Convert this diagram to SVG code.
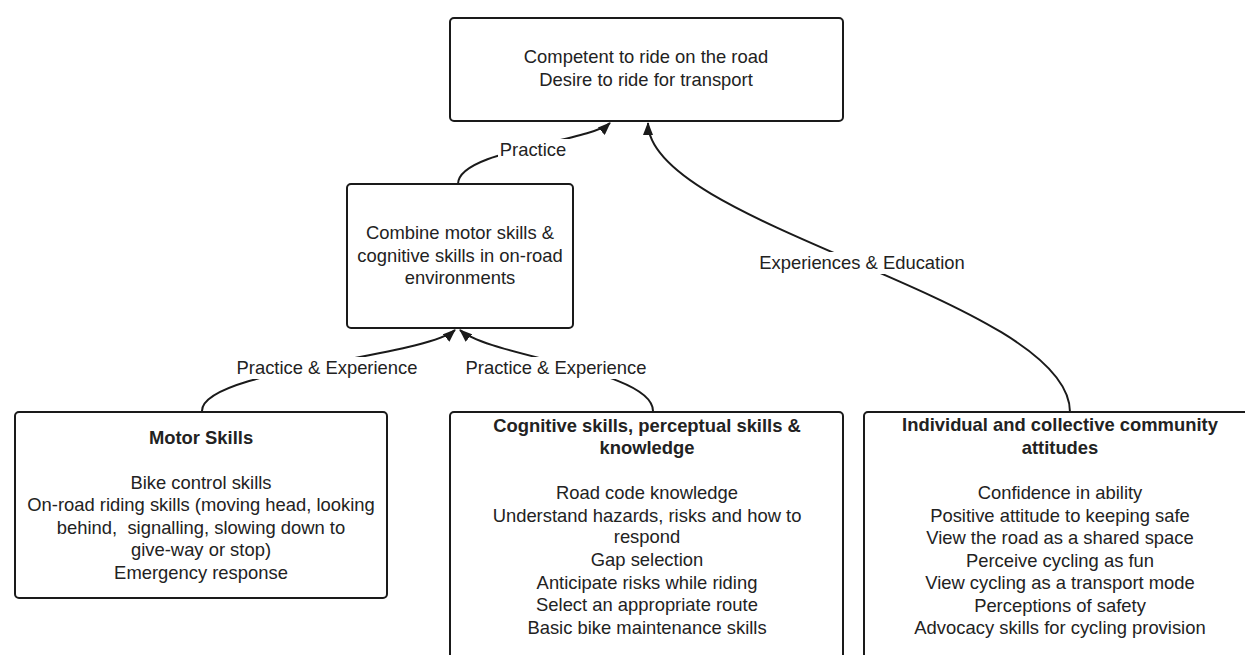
<svg xmlns="http://www.w3.org/2000/svg" width="1245" height="655" viewBox="0 0 1245 655">
<defs>
<style>
.box{fill:#fff;stroke:#1a1a1a;stroke-width:2}
.t{font-family:"Liberation Sans",Arial,sans-serif;font-size:18.4px;fill:#222;text-anchor:middle;white-space:pre}
.b{font-weight:bold}
.c{fill:none;stroke:#1a1a1a;stroke-width:2}
.lb{fill:#fff}
</style>
<marker id="ah" viewBox="0 0 13 10" refX="12" refY="5" markerWidth="13" markerHeight="10" markerUnits="userSpaceOnUse" orient="auto">
<path d="M0,0 L13,5 L0,10 Z" fill="#1a1a1a"/>
</marker>
</defs>
<rect width="1245" height="655" fill="#fff"/>
<g id="connectors">
<path class="c" d="M458,184 C458,150 590,142 610,123" marker-end="url(#ah)"/>
<path class="c" d="M202,411 C202,370 425,357 455,330" marker-end="url(#ah)"/>
<path class="c" d="M653,411 C653,370 490,357 460,330" marker-end="url(#ah)"/>
<path class="c" d="M1070,412 C1070,300 648,225 648,123" marker-end="url(#ah)"/>
<rect class="lb" x="498" y="139" width="72" height="22"/>
<text class="t" x="533" y="156">Practice</text>
<rect class="lb" x="233" y="357" width="189" height="22"/>
<text class="t" x="327" y="374">Practice &amp; Experience</text>
<rect class="lb" x="462" y="357" width="189" height="22"/>
<text class="t" x="556" y="374">Practice &amp; Experience</text>
<rect class="lb" x="753" y="252" width="218" height="22"/>
<text class="t" x="862" y="269">Experiences &amp; Education</text>
</g>
<g id="goal">
<rect class="box" x="450" y="18" width="393" height="103" rx="4"/>
<text class="t" x="646" y="63">Competent to ride on the road</text>
<text class="t" x="646" y="86">Desire to ride for transport</text>
</g>
<g id="combine">
<rect class="box" x="347" y="184" width="226" height="144" rx="4"/>
<text class="t" x="460" y="239">Combine motor skills &amp;</text>
<text class="t" x="460" y="262">cognitive skills in on-road</text>
<text class="t" x="460" y="284">environments</text>
</g>
<g id="motor">
<rect class="box" x="15" y="412" width="372" height="186" rx="4"/>
<text class="t b" x="201" y="444">Motor Skills</text>
<text class="t" x="201" y="489">Bike control skills</text>
<text class="t" x="201" y="511">On-road riding skills (moving head, looking</text>
<text class="t" x="201" y="534">behind,  signalling, slowing down to</text>
<text class="t" x="201" y="556">give-way or stop)</text>
<text class="t" x="201" y="579">Emergency response</text>
</g>
<g id="cognitive">
<rect class="box" x="450" y="412" width="393" height="260" rx="4"/>
<text class="t b" x="647" y="432">Cognitive skills, perceptual skills &amp;</text>
<text class="t b" x="647" y="454">knowledge</text>
<text class="t" x="647" y="499">Road code knowledge</text>
<text class="t" x="647" y="522">Understand hazards, risks and how to</text>
<text class="t" x="647" y="543">respond</text>
<text class="t" x="647" y="566">Gap selection</text>
<text class="t" x="647" y="589">Anticipate risks while riding</text>
<text class="t" x="647" y="611">Select an appropriate route</text>
<text class="t" x="647" y="634">Basic bike maintenance skills</text>
</g>
<g id="attitudes">
<rect class="box" x="864" y="412" width="400" height="260" rx="4"/>
<text class="t b" x="1060" y="431">Individual and collective community</text>
<text class="t b" x="1060" y="454">attitudes</text>
<text class="t" x="1060" y="499">Confidence in ability</text>
<text class="t" x="1060" y="522">Positive attitude to keeping safe</text>
<text class="t" x="1060" y="544">View the road as a shared space</text>
<text class="t" x="1060" y="567">Perceive cycling as fun</text>
<text class="t" x="1060" y="589">View cycling as a transport mode</text>
<text class="t" x="1060" y="612">Perceptions of safety</text>
<text class="t" x="1060" y="634">Advocacy skills for cycling provision</text>
</g>
</svg>
